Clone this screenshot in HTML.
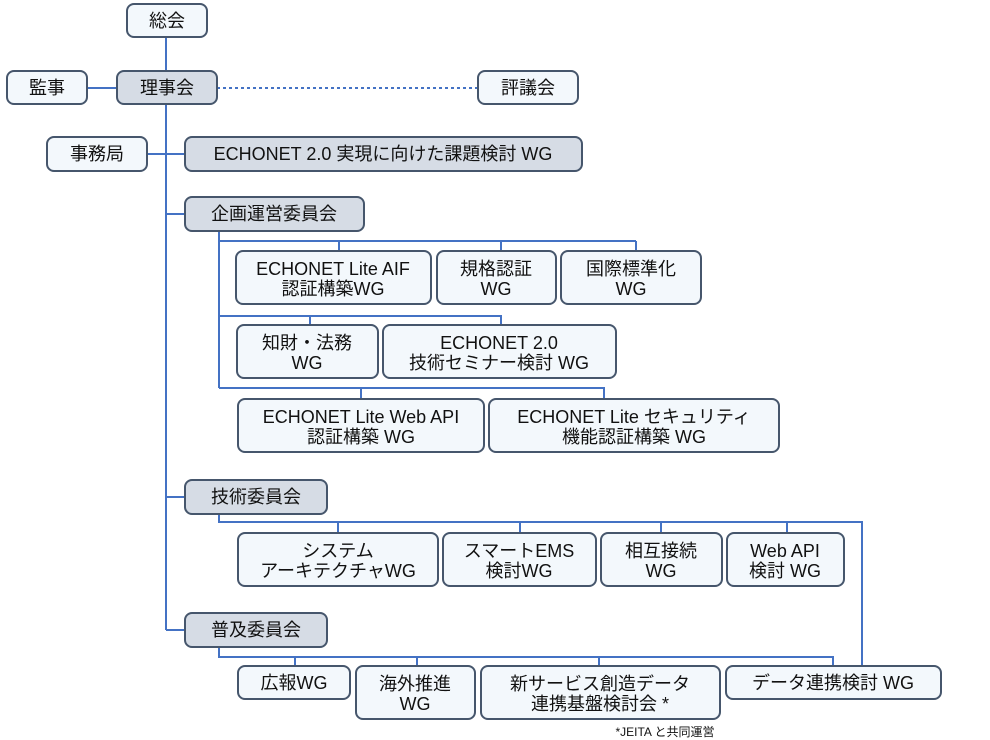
<!DOCTYPE html>
<html><head><meta charset="utf-8"><style>
html,body{margin:0;padding:0;background:#fff}
svg{display:block}
text{font-family:"Liberation Sans","Noto Sans CJK JP",sans-serif;font-size:18px;fill:#111;text-anchor:middle}
.b{fill:#f3f8fc;stroke:#46566c;stroke-width:2}
.g{fill:#d6dce5;stroke:#46566c;stroke-width:2}
.l{stroke:#4472c4;stroke-width:2;fill:none}
</style></head><body>
<svg width="990" height="740" viewBox="0 0 990 740">
<g class="l">
<path d="M166 37V630M87 88H117M147 154H185M166 214H185M166 497H185M166 630H185"/>
<path d="M217 88H478" stroke-dasharray="3,3"/>
<path d="M219 231V388M219 241H636M339 241V251M501 241V251M636 241V251"/>
<path d="M219 316H501V325M310 316V325M219 388H604V399M361 388V399"/>
<path d="M219 514V522H862V666M338 522V533M520 522V533M661 522V533M787 522V533"/>
<path d="M219 647V657H833V666M295 657V666M417 657V666M599 657V666"/>
</g>
<rect class="b" x="127" y="4" width="80" height="33" rx="7"/><text x="167" y="27">総会</text>
<rect class="b" x="7" y="71" width="80" height="33" rx="7"/><text x="47" y="94">監事</text>
<rect class="g" x="117" y="71" width="100" height="33" rx="7"/><text x="167" y="94">理事会</text>
<rect class="b" x="478" y="71" width="100" height="33" rx="7"/><text x="528" y="94">評議会</text>
<rect class="b" x="47" y="137" width="100" height="34" rx="7"/><text x="97" y="160">事務局</text>
<rect class="g" x="185" y="137" width="397" height="34" rx="7"/><text x="383" y="160">ECHONET 2.0 実現に向けた課題検討 WG</text>
<rect class="g" x="185" y="197" width="179" height="34" rx="7"/><text x="274" y="220">企画運営委員会</text>
<rect class="b" x="236" y="251" width="195" height="53" rx="7"/><text x="333" y="275">ECHONET Lite AIF</text><text x="333" y="295">認証構築WG</text>
<rect class="b" x="437" y="251" width="119" height="53" rx="7"/><text x="496" y="275">規格認証</text><text x="496" y="295">WG</text>
<rect class="b" x="561" y="251" width="140" height="53" rx="7"/><text x="631" y="275">国際標準化</text><text x="631" y="295">WG</text>
<rect class="b" x="237" y="325" width="141" height="53" rx="7"/><text x="307" y="349">知財・法務</text><text x="307" y="369">WG</text>
<rect class="b" x="383" y="325" width="233" height="53" rx="7"/><text x="499" y="349">ECHONET 2.0</text><text x="499" y="369">技術セミナー検討 WG</text>
<rect class="b" x="238" y="399" width="246" height="53" rx="7"/><text x="361" y="423">ECHONET Lite Web API</text><text x="361" y="443">認証構築 WG</text>
<rect class="b" x="489" y="399" width="290" height="53" rx="7"/><text x="634" y="423">ECHONET Lite セキュリティ</text><text x="634" y="443">機能認証構築 WG</text>
<rect class="g" x="185" y="480" width="142" height="34" rx="7"/><text x="256" y="503">技術委員会</text>
<rect class="b" x="238" y="533" width="200" height="53" rx="7"/><text x="338" y="557">システム</text><text x="338" y="577">アーキテクチャWG</text>
<rect class="b" x="443" y="533" width="153" height="53" rx="7"/><text x="519" y="557">スマートEMS</text><text x="519" y="577">検討WG</text>
<rect class="b" x="601" y="533" width="121" height="53" rx="7"/><text x="661" y="557">相互接続</text><text x="661" y="577">WG</text>
<rect class="b" x="727" y="533" width="117" height="53" rx="7"/><text x="785" y="557">Web API</text><text x="785" y="577">検討 WG</text>
<rect class="g" x="185" y="613" width="142" height="34" rx="7"/><text x="256" y="636">普及委員会</text>
<rect class="b" x="238" y="666" width="112" height="33" rx="7"/><text x="294" y="689">広報WG</text>
<rect class="b" x="356" y="666" width="119" height="53" rx="7"/><text x="415" y="690">海外推進</text><text x="415" y="710">WG</text>
<rect class="b" x="481" y="666" width="239" height="53" rx="7"/><text x="600" y="690">新サービス創造データ</text><text x="600" y="710">連携基盤検討会 *</text>
<rect class="b" x="726" y="666" width="215" height="33" rx="7"/><text x="833" y="689">データ連携検討 WG</text>
<text x="665" y="736" style="font-size:12px">*JEITA と共同運営</text>
</svg>
</body></html>
